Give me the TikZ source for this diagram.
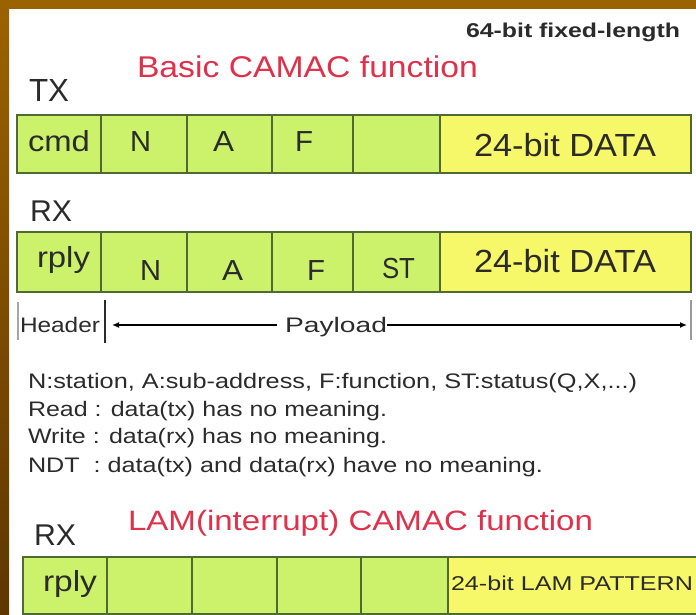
\documentclass[tikz,border=0pt]{standalone}
\usepackage{fontspec}
\setmainfont{Liberation Sans}
\usepackage{graphicx}
\usetikzlibrary{arrows.meta}
\definecolor{brownTop}{HTML}{9B6200}
\definecolor{brownBot}{HTML}{5E3700}
\definecolor{cellgreen}{HTML}{CBF26A}
\definecolor{cellyellow}{HTML}{F7F76A}
\definecolor{cellline}{HTML}{4F6A33}
\definecolor{redtxt}{HTML}{E0314B}
\definecolor{txtdark}{HTML}{2B2B2B}
\newcommand\ftxt[3]{\resizebox{#1pt}{\height}{\fontsize{#2}{#2}\selectfont #3}}
\begin{document}
\begin{tikzpicture}[x=1pt,y=-1pt,
  cell/.style={draw=cellline, line width=1.2pt, inner sep=0pt, outer sep=0pt, fill=cellgreen},
  ycell/.style={cell, fill=cellyellow},
  lbl/.style={inner sep=0pt, outer sep=0pt, anchor=base west, text=txtdark},
  rlbl/.style={lbl, text=redtxt},
  arr/.style={line width=1.3pt, draw=black, -{Latex[length=7pt,width=6pt]}},
  bar/.style={line width=1.2pt, draw=#1}]
\useasboundingbox (0,0) rectangle (696,615);
\fill[white] (0,0) rectangle (696,615);
% frame
\shade[top color=brownTop, bottom color=brownBot] (0,0) rectangle (9,615);
\fill[brownTop] (0,0) rectangle (696,9);

% titles
\node[lbl] (fixlen) at (466,38) {\ftxt{214}{20}{\bfseries 64-bit fixed-length}};
\node[rlbl] (basic) at (137,78) {\ftxt{341}{30}{Basic CAMAC function}};
\node[lbl] (tx) at (29,102) {\ftxt{40}{32}{TX}};

% TX row
\node[cell, minimum width=84pt, minimum height=58pt] (t1) at (59,144) {};
\node[cell, minimum width=86pt, minimum height=58pt] (t2) at (144,144) {};
\node[cell, minimum width=85pt, minimum height=58pt] (t3) at (229.5,144) {};
\node[cell, minimum width=81pt, minimum height=58pt] (t4) at (312.5,144) {};
\node[cell, minimum width=87pt, minimum height=58pt] (t5) at (396.5,144) {};
\node[ycell, minimum width=251pt, minimum height=58pt] (t6) at (565.5,144) {};
\node[lbl] (cmd) at (28,152) {\ftxt{62}{29}{cmd}};
\node[lbl] (n1) at (130,152) {\ftxt{21}{29}{N}};
\node[lbl] (a1) at (213,152) {\ftxt{21}{29}{A}};
\node[lbl] (f1) at (295,152) {\ftxt{18}{29}{F}};
\node[lbl] (d1) at (474,157) {\ftxt{182}{32}{24-bit DATA}};

% RX row
\node[lbl] (rx1) at (30,221) {\ftxt{42}{30}{RX}};
\node[cell, minimum width=84pt, minimum height=60pt] (r1) at (59,262) {};
\node[cell, minimum width=86pt, minimum height=60pt] (r2) at (144,262) {};
\node[cell, minimum width=85pt, minimum height=60pt] (r3) at (229.5,262) {};
\node[cell, minimum width=81pt, minimum height=60pt] (r4) at (312.5,262) {};
\node[cell, minimum width=87pt, minimum height=60pt] (r5) at (396.5,262) {};
\node[ycell, minimum width=251pt, minimum height=60pt] (r6) at (565.5,262) {};
\node[lbl] (rply) at (37,267) {\ftxt{53}{29}{rply}};
\node[lbl] (n2) at (140,280) {\ftxt{21}{29}{N}};
\node[lbl] (a2) at (222,280) {\ftxt{21}{29}{A}};
\node[lbl] (f2) at (307,280) {\ftxt{18}{29}{F}};
\node[lbl] (st) at (382,278) {\ftxt{33}{29}{ST}};
\node[lbl] (d2) at (474,272) {\ftxt{182}{32}{24-bit DATA}};

% header / payload
\node[lbl] (hdr) at (20,332) {\ftxt{80}{21}{Header}};
\node[lbl] (pay) at (285,332) {\ftxt{102}{21}{Payload}};
\coordinate (fb1) at (18,302); \coordinate (fb2) at (18,340);
\coordinate (hb1) at (105,300); \coordinate (hb2) at (105,343);
\coordinate (rb1) at (691,300); \coordinate (rb2) at (691,340);
\coordinate (ltip) at (112,325); \coordinate (lst) at (277,325);
\coordinate (rst) at (387,325); \coordinate (rtip) at (687,325);
\draw[bar=gray!70] (fb1) -- (fb2);
\draw[bar=txtdark] (hb1) -- (hb2);
\draw[bar=gray!80, line width=1.6pt] (rb1) -- (rb2);
\draw[arr] (lst) -- (ltip);
\draw[arr] (rst) -- (rtip);

% notes
\node[lbl] (l1) at (28,388) {\ftxt{609}{21}{N:station, A:sub-address, F:function, ST:status(Q,X,...)}};
\node[lbl] (l2) at (28,416) {\ftxt{359}{21}{Read : data(tx) has no meaning.}};
\node[lbl] (l3) at (28,443) {\ftxt{359}{21}{Write : data(rx) has no meaning.}};
\node[lbl] (l4) at (28,472) {\ftxt{515}{21}{NDT\ \ : data(tx) and data(rx) have no meaning.}};

% LAM
\node[rlbl] (lam) at (128,530) {\ftxt{465}{28}{LAM(interrupt) CAMAC function}};
\node[lbl] (rx2) at (34,545) {\ftxt{42}{30}{RX}};
\node[cell, minimum width=84pt, minimum height=57pt] (b1) at (65,585.5) {};
\node[cell, minimum width=85pt, minimum height=57pt] (b2) at (149.5,585.5) {};
\node[cell, minimum width=85pt, minimum height=57pt] (b3) at (234.5,585.5) {};
\node[cell, minimum width=84pt, minimum height=57pt] (b4) at (319,585.5) {};
\node[cell, minimum width=87pt, minimum height=57pt] (b5) at (404.5,585.5) {};
\node[ycell, minimum width=252pt, minimum height=57pt] (b6) at (574,585.5) {};
\node[lbl] (rply3) at (43,591) {\ftxt{54}{29}{rply}};
\node[lbl] (lp) at (451,590) {\ftxt{242}{20}{24-bit LAM PATTERN}};
\end{tikzpicture}
\end{document}
